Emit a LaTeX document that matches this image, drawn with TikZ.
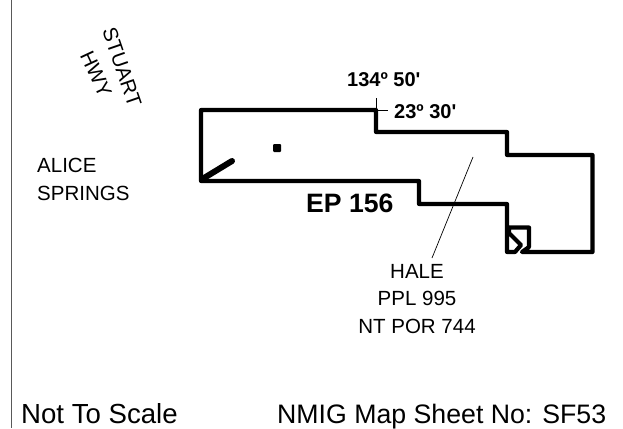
\documentclass[tikz,border=0pt]{standalone}
\usepackage{fontspec}
\setmainfont{Liberation Sans}
\tikzset{
  lease/.style={line width=4.2pt, line join=round, line cap=round},
  thinline/.style={line width=0.7pt},
  maptext/.style={inner sep=0pt, anchor=base, font=\fontsize{20.5}{20.5}\selectfont},
  boldtext/.style={inner sep=0pt, anchor=base west, font=\fontsize{20}{20}\selectfont\bfseries},
  foottext/.style={inner sep=0pt, anchor=base west, font=\fontsize{26.7}{26.7}\selectfont}
}
\begin{document}
\begin{tikzpicture}[x=1pt,y=-1pt]
\useasboundingbox (0,0) rectangle (623,428);
\draw [line width=1pt, black!65] (11,0) -- (11,428);

\draw [lease] (201,110) -- (376,110) -- (376,132) -- (507,132) -- (507,155) -- (592.5,155) -- (592.5,252) -- (522,252) -- (529,247) -- (529,227.5) -- (509,227.5) -- (509,233) -- (521,245) -- (515,252) -- (507,252) -- (507,204) -- (419,204) -- (419,181) -- (201,181) -- cycle;
\draw [line width=6pt, line cap=round] (204,178) -- (232,161);
\node [fill=black, rounded corners=1pt, minimum size=8pt, inner sep=0pt] (well) at (277,148) {};

\coordinate (cornerN) at (376,98);
\coordinate (cornerC) at (376,110);
\coordinate (cornerE) at (388,110);
\draw [thinline] (cornerN) -- (cornerC);
\draw [thinline] (cornerC) -- (cornerE);

\node [boldtext] (lon) at (347,86) {134º 50\textquotesingle};
\node [boldtext] (lat) at (394,118) {23º 30\textquotesingle};
\node [boldtext, font=\fontsize{26.6}{26.6}\selectfont\bfseries] (permit) at (306,212) {EP 156};

\node [maptext] (hale) at (417,278) {HALE};
\node [maptext] (ppl) at (417,305) {PPL 995};
\node [maptext] (por) at (417,333) {NT POR 744};
\coordinate (field) at (473,157);
\coordinate (halept) at (432,258);
\draw [thinline] (field) -- (halept);

\node [maptext, anchor=base west] (alice) at (37,172) {ALICE};
\node [maptext, anchor=base west] (springs) at (37,200) {SPRINGS};

\node [maptext, anchor=center, rotate=-71] (stuart) at (122,67) {STUART};
\node [maptext, anchor=center, rotate=-65] (hwy) at (96,74) {HWY};

\node [foottext, font=\fontsize{27.6}{27.6}\selectfont] (scale) at (21,423) {Not To Scale};
\node [foottext] (sheet) at (277,423) {NMIG Map Sheet No: SF53};
\end{tikzpicture}
\end{document}
